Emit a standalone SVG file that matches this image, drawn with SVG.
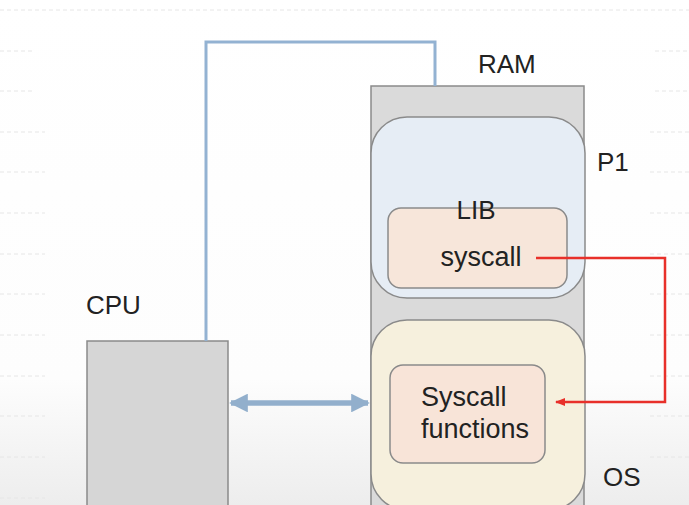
<svg xmlns="http://www.w3.org/2000/svg" width="689" height="505" viewBox="0 0 689 505">
<defs>
<linearGradient id="bg" x1="0" y1="0" x2="0" y2="1">
<stop offset="0" stop-color="#ffffff"/>
<stop offset="0.75" stop-color="#fdfdfd"/>
<stop offset="1" stop-color="#ededed"/>
</linearGradient>
<marker id="redArrow" viewBox="0 0 10 10" refX="9" refY="5" markerWidth="4" markerHeight="4" orient="auto-start-reverse">
<path d="M0,1 L10,5 L0,9 z" fill="#e8302a"/>
</marker>
<marker id="blueArrow" viewBox="0 0 10 10" refX="9" refY="5" markerWidth="3.4" markerHeight="3.4" orient="auto-start-reverse">
<path d="M0,0 L10,5 L0,10 z" fill="#92afcc"/>
</marker>
</defs>
<style>
text{font-family:"Liberation Sans",Arial,sans-serif;fill:#222;font-size:26px}
text.big{font-size:27px}
.bgline{stroke:#e6e6e6;stroke-width:1;stroke-dasharray:4 3}
.box{stroke:#8a8a8a;stroke-width:1.5}
</style>
<rect width="689" height="505" fill="url(#bg)"/>
<g id="background-lines">
<line class="bgline" x1="0" y1="10" x2="689" y2="10"/>
<line class="bgline" x1="0" y1="51" x2="35" y2="51"/>
<line class="bgline" x1="0" y1="91" x2="35" y2="91"/>
<line class="bgline" x1="0" y1="132" x2="45" y2="132"/>
<line class="bgline" x1="0" y1="172" x2="45" y2="172"/>
<line class="bgline" x1="0" y1="213" x2="45" y2="213"/>
<line class="bgline" x1="0" y1="254" x2="45" y2="254"/>
<line class="bgline" x1="0" y1="294" x2="45" y2="294"/>
<line class="bgline" x1="0" y1="335" x2="45" y2="335"/>
<line class="bgline" x1="0" y1="376" x2="45" y2="376"/>
<line class="bgline" x1="0" y1="416" x2="45" y2="416"/>
<line class="bgline" x1="0" y1="457" x2="45" y2="457"/>
<line class="bgline" x1="0" y1="498" x2="45" y2="498"/>
<line class="bgline" x1="655" y1="51" x2="689" y2="51"/>
<line class="bgline" x1="655" y1="91" x2="689" y2="91"/>
<line class="bgline" x1="650" y1="132" x2="689" y2="132"/>
<line class="bgline" x1="650" y1="172" x2="689" y2="172"/>
<line class="bgline" x1="650" y1="213" x2="689" y2="213"/>
<line class="bgline" x1="650" y1="254" x2="689" y2="254"/>
<line class="bgline" x1="650" y1="294" x2="689" y2="294"/>
<line class="bgline" x1="650" y1="335" x2="689" y2="335"/>
<line class="bgline" x1="650" y1="376" x2="689" y2="376"/>
<line class="bgline" x1="650" y1="416" x2="689" y2="416"/>
<line class="bgline" x1="650" y1="457" x2="689" y2="457"/>
</g>
<g id="ram">
<rect class="box" x="371" y="86" width="213" height="420" fill="#dadada"/>
<text x="478" y="73">RAM</text>
</g>
<g id="p1">
<rect class="box" x="371" y="117" width="214" height="181" rx="36" fill="#e6edf5"/>
<text x="597" y="171">P1</text>
</g>
<g id="lib">
<rect class="box" x="388" y="208" width="179" height="80" rx="13" fill="#f7e6da"/>
<text x="476" y="219" text-anchor="middle">LIB</text>
<text class="big" x="481" y="266" text-anchor="middle">syscall</text>
</g>
<g id="os">
<rect class="box" x="371" y="320" width="214" height="190" rx="36" fill="#f6f0dd"/>
<text x="603" y="486">OS</text>
</g>
<g id="syscall-functions">
<rect class="box" x="390" y="365" width="155" height="98" rx="13" fill="#f8e4d8"/>
<text class="big" x="421" y="406">Syscall</text>
<text class="big" x="421" y="438">functions</text>
</g>
<g id="cpu">
<rect class="box" x="87" y="341" width="141" height="170" fill="#d6d6d6"/>
<text x="86" y="314">CPU</text>
</g>
<g id="connectors" fill="none">
<path d="M206,341 V42 H435 V86" stroke="#93b2d2" stroke-width="3"/>
<line x1="231" y1="403" x2="368" y2="403" stroke="#92afcc" stroke-width="5.5" marker-start="url(#blueArrow)" marker-end="url(#blueArrow)"/>
<path d="M536,258 H665 V402 H556" stroke="#e8302a" stroke-width="2.5" marker-end="url(#redArrow)"/>
</g>
</svg>
